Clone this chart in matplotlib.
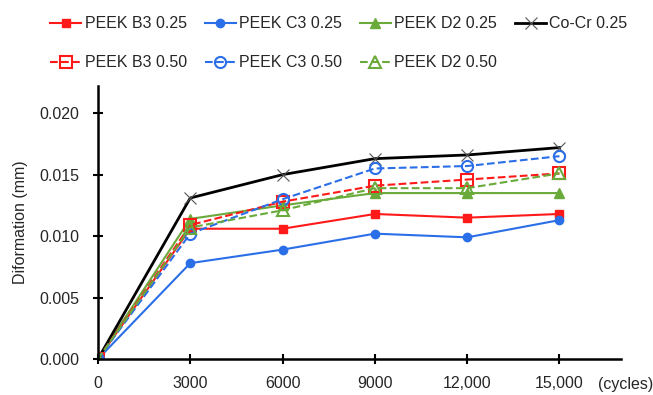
import matplotlib.pyplot as plt
import numpy as np

# === Data ===
cycles = [0, 3000, 6000, 9000, 12000, 15000]
b3_025 = [0, 0.0106, 0.0106, 0.0118, 0.0115, 0.0118]
c3_025 = [0, 0.0078, 0.0089, 0.0102, 0.0099, 0.0113]
d2_025 = [0, 0.0114, 0.0125, 0.0135, 0.0135, 0.0135]
cocr_025 = [0, 0.0131, 0.0150, 0.0163, 0.0166, 0.0172]
b3_050 = [0, 0.0109, 0.0128, 0.0141, 0.0146, 0.0151]
c3_050 = [0, 0.0102, 0.0130, 0.0155, 0.0157, 0.0165]
d2_050 = [0, 0.0107, 0.0121, 0.0139, 0.0139, 0.0151]
xtick_labels = ['0', '3000', '6000', '9000', '12,000', '15,000']

red = '#ff1a1a'
blue = '#2b6fe8'
green = '#6aaa3a'
txt = '#262626'

plt.rcParams['font.family'] = ['Liberation Sans', 'DejaVu Sans']
fig = plt.figure(figsize=(6.53, 3.95), dpi=100)
ax = fig.add_axes([0.150, 0.091, 0.801, 0.691])

h1, = ax.plot(cycles, b3_025, color=red, marker='s', ms=6, lw=1.5, label='PEEK B3 0.25')
h2, = ax.plot(cycles, c3_025, color=blue, marker='o', ms=6, lw=1.5, label='PEEK C3 0.25')
h3, = ax.plot(cycles, d2_025, color=green, marker='^', ms=7, lw=1.5, label='PEEK D2 0.25')
h4, = ax.plot(cycles, cocr_025, color='black', marker='x', ms=9, mec='#555555', mew=0.8, lw=2, label='Co-Cr 0.25')
h5, = ax.plot(cycles, b3_050, color=red, marker='s', ms=9, mfc='none', mew=1.5, lw=1.5, ls='--', label='PEEK B3 0.50')
h6, = ax.plot(cycles, c3_050, color=blue, marker='o', ms=8, mfc='none', mew=1.5, lw=1.5, ls='--', label='PEEK C3 0.50')
h7, = ax.plot(cycles, d2_050, color=green, marker='^', ms=9, mfc='none', mew=1.5, lw=1.5, ls='--', label='PEEK D2 0.50')

ax.set_xlim(0, 17000)
ax.set_ylim(0, 0.0222)
ax.set_xticks(cycles)
ax.set_xticklabels(xtick_labels)
ax.set_yticks(np.arange(0, 0.0201, 0.005))
ax.set_yticklabels(['0.000', '0.005', '0.010', '0.015', '0.020'])
ax.tick_params(axis='both', direction='inout', length=7, width=1.5, labelsize=11.5,
               labelcolor=txt)
ax.tick_params(axis='y', pad=10)
ax.tick_params(axis='x', pad=9)
for side in ['top', 'right']:
    ax.spines[side].set_visible(False)
for side in ['left', 'bottom']:
    ax.spines[side].set_linewidth(1.8)
ax.set_ylabel('Diformation (mm)', fontsize=11.5, color=txt, labelpad=8)
fig.text(0.916, 0.014, '(cycles)', fontsize=11.5, color=txt)

# legend fills column by column, so order handles to read row-wise
handles = [h1, h5, h2, h6, h3, h7, h4]
fig.legend(handles=handles, labels=[h.get_label() for h in handles],
           loc='upper left', bbox_to_anchor=(0.055, 0.995), ncol=4, frameon=False,
           fontsize=11.5, handlelength=1.95, handletextpad=0.2, columnspacing=1.12,
           labelspacing=1.5, labelcolor=txt)

plt.savefig('out.png', dpi=100)
